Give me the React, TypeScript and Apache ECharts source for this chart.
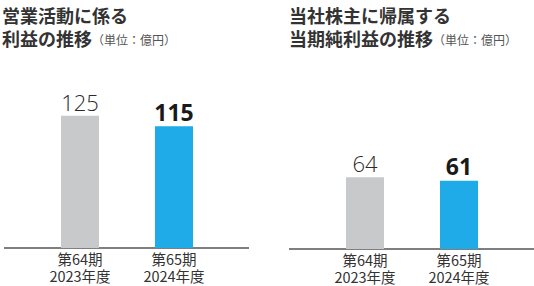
import React, { useEffect, useRef } from "react";
import * as echarts from "echarts";

const categories = ["第64期\n2023年度", "第65期\n2024年度"];
const operatingProfit = [125, 115];
const netProfit = [64, 61];
const titles = ["営業活動に係る\n利益の推移", "当社株主に帰属する\n当期純利益の推移"];
const unitText = "（単位：億円）";

const GRAY = "#c8c9cb";
const BLUE = "#1eabe7";
const CJK = "'Noto Sans CJK JP', 'Noto Sans', sans-serif";
const NUM = "'Open Sans', 'Noto Sans', sans-serif";

function makeData(values: number[]) {
  return values.map((v, i) => ({
    value: v,
    itemStyle: { color: i === 0 ? GRAY : BLUE },
    label: i === 0
      ? { fontWeight: 300 as any, color: "#2a2a2a", fontSize: 22 }
      : { fontWeight: "bold" as any, color: "#1a1a1a", fontSize: 23 },
  }));
}

function titleText(t: string) {
  const lines = t.split("\n");
  return lines
    .map((l, i) => (i === lines.length - 1 ? `{a|${l}}{b|${unitText}}` : `{a|${l}}`))
    .join("\n");
}

export default function App() {
  const ref = useRef<HTMLDivElement>(null);
  useEffect(() => {
    if (!ref.current) return;
    const chart = echarts.init(ref.current, undefined, { renderer: "svg" });
    const titleRich = {
      a: { fontSize: 18, fontWeight: "bold" as any, color: "#333", fontFamily: CJK, lineHeight: 23 },
      b: { fontSize: 12, fontWeight: "normal" as any, color: "#555", fontFamily: CJK, lineHeight: 23, padding: [3, 0, 0, 0] },
    };
    chart.setOption({
      animation: false,
      title: [
        { text: titleText(titles[0]), left: 2, top: 3, padding: 0, textStyle: { rich: titleRich } },
        { text: titleText(titles[1]), left: 289, top: 3, padding: 0, textStyle: { rich: titleRich } },
      ],
      grid: [
        { left: 33, width: 188, top: 89.3, height: 158.7 },
        { left: 318, width: 188, top: 159.4, height: 89.6 },
      ],
      xAxis: [0, 1].map((i) => ({
        type: "category",
        gridIndex: i,
        data: categories,
        axisLine: { show: false },
        axisTick: { show: false },
        axisLabel: {
          margin: 2,
          fontSize: 14.5,
          lineHeight: 17,
          color: "#333",
          fontFamily: CJK,
        },
      })),
      yAxis: [
        { type: "value", gridIndex: 0, min: 0, max: 150, show: false },
        { type: "value", gridIndex: 1, min: 0, max: 80, show: false },
      ],
      series: [
        {
          type: "bar",
          xAxisIndex: 0,
          yAxisIndex: 0,
          barWidth: 38,
          data: makeData(operatingProfit),
          label: { show: true, position: "top", distance: 3, fontFamily: NUM },
        },
        {
          type: "bar",
          xAxisIndex: 1,
          yAxisIndex: 1,
          barWidth: 38,
          data: makeData(netProfit),
          label: { show: true, position: "top", distance: 3, fontFamily: NUM },
        },
      ],
      graphic: [
        { type: "line", shape: { x1: 4, y1: 248, x2: 249, y2: 248 }, style: { stroke: "#555", lineWidth: 1.5 } },
        { type: "line", shape: { x1: 289, y1: 249, x2: 534, y2: 249 }, style: { stroke: "#555", lineWidth: 1.5 } },
      ],
    });
    return () => chart.dispose();
  }, []);
  return <div ref={ref} style={{ width: 534, height: 286, position: "absolute", left: 0, top: 0 }} />;
}
